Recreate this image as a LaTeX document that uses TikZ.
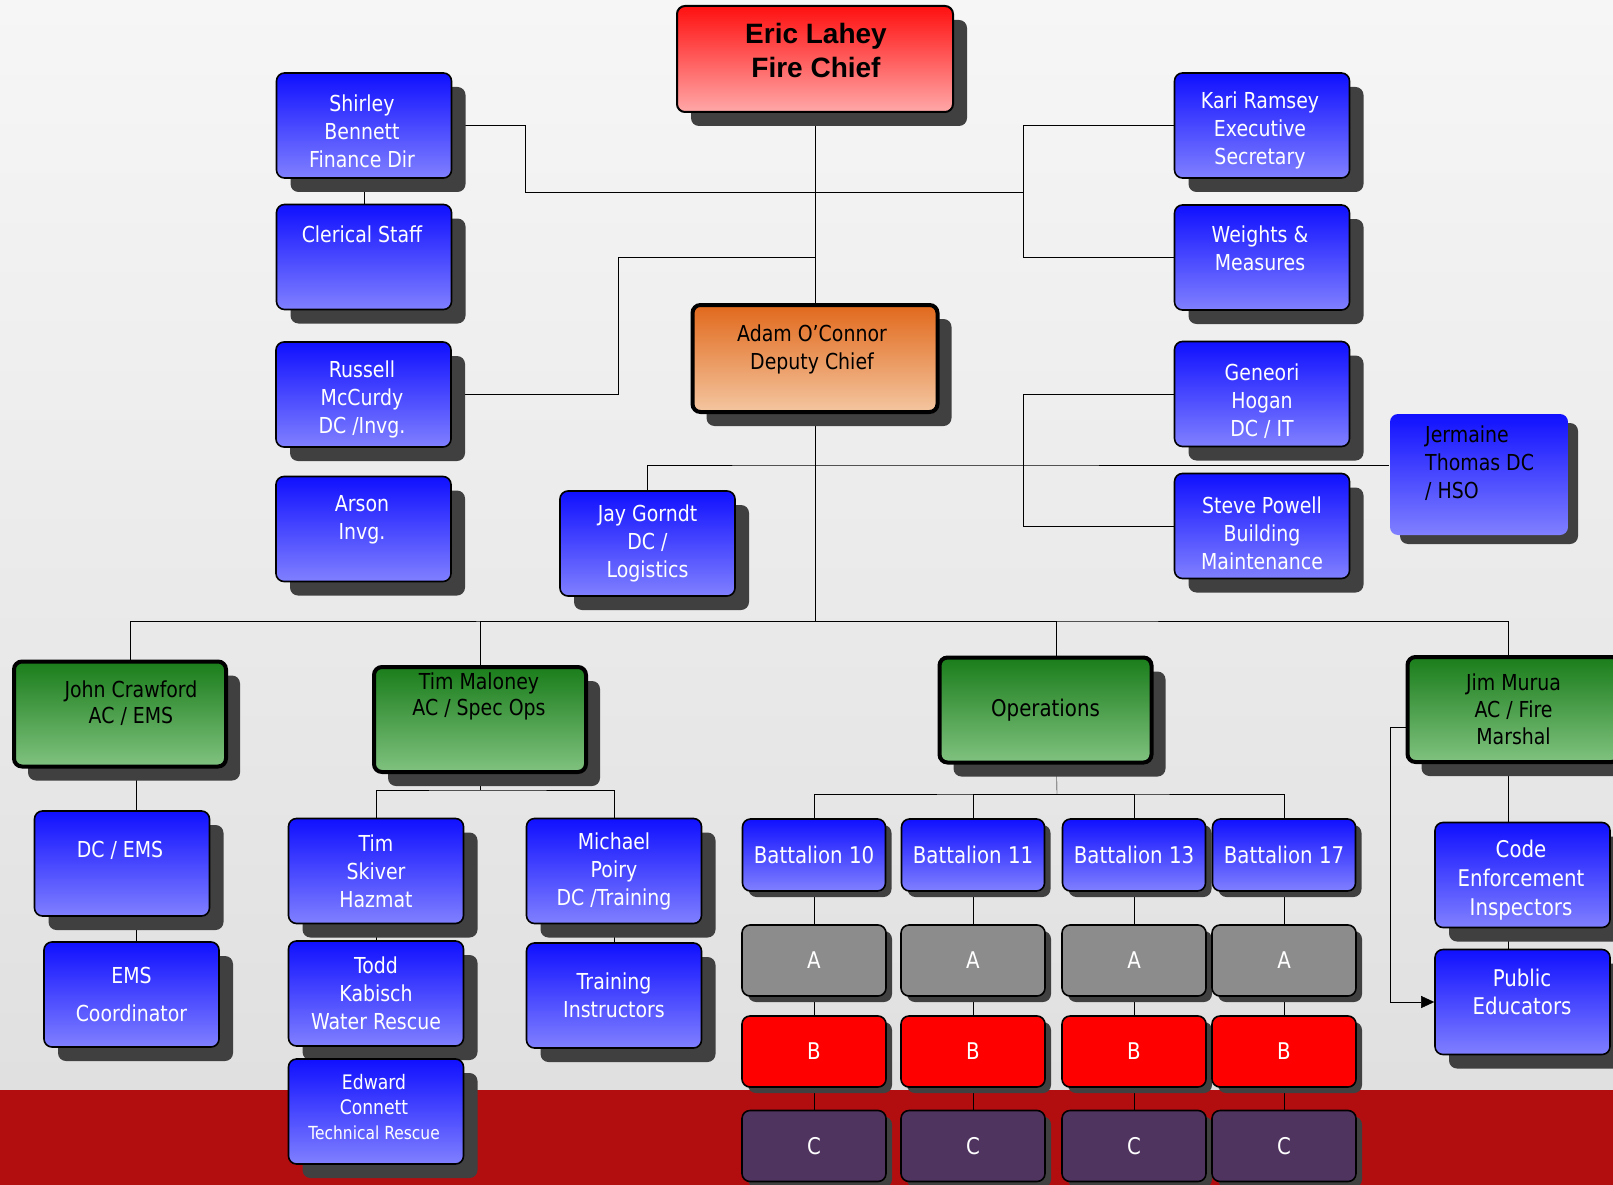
\documentclass[tikz,border=0pt]{standalone}
\usepackage{fontspec}
\setmainfont{DejaVu Sans}[FakeStretch=0.86]
\newfontfamily\chieffont{Liberation Sans}
\usepackage{tikz}
\usetikzlibrary{shadows,arrows.meta}

\definecolor{bgtop}{RGB}{246,246,246}
\definecolor{bgbot}{RGB}{222,222,222}
\definecolor{bandred}{RGB}{178,14,16}
\definecolor{shadowgray}{RGB}{64,64,64}
\definecolor{bluetop}{RGB}{16,16,255}
\definecolor{bluebot}{RGB}{128,128,255}
\definecolor{greentop}{RGB}{26,125,26}
\definecolor{greenbot}{RGB}{128,194,128}
\definecolor{chieftop}{RGB}{255,16,16}
\definecolor{chiefbot}{RGB}{255,168,168}
\definecolor{deputytop}{RGB}{225,105,28}
\definecolor{deputybot}{RGB}{244,198,160}
\definecolor{shiftgray}{RGB}{140,140,140}
\definecolor{shiftred}{RGB}{255,0,0}
\definecolor{shiftpurple}{RGB}{80,52,96}

\pgfdeclarelayer{back}
\pgfdeclarelayer{wires}
\pgfsetlayers{back,wires,main}

\tikzstyle{bigshadow} = [drop shadow={shadow xshift=14pt, shadow yshift=-14pt, fill=shadowgray, opacity=1}]
\tikzstyle{smallshadow} = [drop shadow={shadow xshift=6pt, shadow yshift=-6pt, fill=shadowgray, opacity=1}]
\tikzstyle{box} = [rectangle, rounded corners=8pt, inner sep=0pt, draw=black, line width=1.6pt, align=center, text=white]
\tikzstyle{bluebox} = [box, bigshadow, minimum width=175pt, minimum height=105pt, top color=bluetop, bottom color=bluebot]
\tikzstyle{greenbox} = [box, bigshadow, line width=4pt, minimum width=212pt, minimum height=105pt, top color=greentop, bottom color=greenbot, text=black]
\tikzstyle{chiefbox} = [box, bigshadow, line width=2pt, minimum width=276pt, minimum height=106pt, top color=chieftop, bottom color=chiefbot]
\tikzstyle{deputybox} = [box, bigshadow, line width=4pt, minimum width=245pt, minimum height=107pt, top color=deputytop, bottom color=deputybot]
\tikzstyle{hsobox} = [box, draw=none, minimum width=178pt, minimum height=121pt, top color=bluetop, bottom color=bluebot, drop shadow={shadow xshift=10pt, shadow yshift=-9pt, fill=shadowgray, opacity=1}]
\tikzstyle{battalion} = [box, smallshadow, minimum width=143pt, minimum height=72pt, top color=bluetop, bottom color=bluebot, font=\fontsize{23}{28}\selectfont]
\tikzstyle{platoon} = [box, smallshadow, minimum width=144pt, minimum height=71pt, font=\fontsize{23}{28}\selectfont]
\tikzstyle{platoonA} = [platoon, fill=shiftgray]
\tikzstyle{platoonB} = [platoon, fill=shiftred]
\tikzstyle{platoonC} = [platoon, fill=shiftpurple]
\tikzstyle{lbl} = [inner sep=0pt, align=center, text=white]
\tikzstyle{dark} = [lbl, text=black]

\begin{document}
\begin{tikzpicture}[x=1pt, y=-1pt, line width=1.8pt, font=\fontsize{22}{28}\selectfont]
\useasboundingbox (0,0) rectangle (1613,1185);
\begin{pgfonlayer}{back}
\shade[top color=bgtop, bottom color=bgbot] (0,0) rectangle (1613,1185);
\fill[bandred] (0,1090) rectangle (1613,1185);
\end{pgfonlayer}

% chief and deputy
\node[chiefbox] (chief) at (815,59) {};
\node[dark, font=\chieffont\bfseries\fontsize{28}{34}\selectfont] (chiefT) at (816,50) {Eric Lahey\\Fire Chief};
\node[deputybox] (adam) at (815,358.5) {};
\node[dark] (adamT) at (812,349) {Adam O'Connor\\Deputy Chief};

% staff, left
\node[bluebox] (shirley) at (364,125.5) {};
\node[lbl] (shirleyT) at (362,131) {Shirley\\Bennett\\Finance Dir};
\node[bluebox] (clerical) at (364,257) {};
\node[lbl] (clericalT) at (362,234) {Clerical Staff};
\node[bluebox] (russell) at (363.5,394.5) {};
\node[lbl] (russellT) at (362,399) {Russell\\McCurdy\\DC /Invg.};
\node[bluebox] (arson) at (363.5,529) {};
\node[lbl] (arsonT) at (362,520) {Arson\\Invg.};
\node[bluebox] (jay) at (647.5,543.5) {Jay Gorndt\\DC /\\Logistics};

% staff, right
\node[bluebox] (kari) at (1262,125.5) {};
\node[lbl] (kariT) at (1260,130) {Kari Ramsey\\Executive\\Secretary};
\node[bluebox] (weights) at (1262,257.5) {};
\node[lbl] (weightsT) at (1260,248) {Weights \&\\Measures};
\node[bluebox] (geneori) at (1262,394) {};
\node[lbl] (geneoriT) at (1262,401) {Geneori\\Hogan\\DC / IT};
\node[bluebox] (steve) at (1262,526) {};
\node[lbl] (steveT) at (1262,533) {Steve Powell\\Building\\Maintenance};
\node[hsobox] (jermaine) at (1479,474.5) {};
\node[dark, anchor=west, align=left] (jermaineT) at (1425,463) {Jermaine\\Thomas DC\\/ HSO};

% assistant chiefs
\node[greenbox] (john) at (120,714) {};
\node[dark, font=\fontsize{22}{26}\selectfont] (johnT) at (131,703) {John Crawford\\AC / EMS};
\node[greenbox] (timmal) at (480,719.5) {};
\node[dark, font=\fontsize{22}{26}\selectfont] (timmalT) at (479,696) {Tim Maloney\\AC / Spec Ops};
\node[greenbox, font=\fontsize{23}{28}\selectfont] (ops) at (1045.5,710) {Operations};
\node[greenbox, font=\fontsize{22}{27}\selectfont] (jim) at (1513.5,709.5) {Jim Murua\\AC / Fire\\Marshal};

% EMS
\node[bluebox] (dcems) at (122,863.5) {};
\node[lbl] (dcemsT) at (120,850) {DC / EMS};
\node[bluebox] (emscoord) at (131.5,994.5) {EMS\\[10pt]Coordinator};

% special ops
\node[bluebox] (skiver) at (376,871) {Tim\\Skiver\\Hazmat};
\node[bluebox] (todd) at (376,993.5) {Todd\\Kabisch\\Water Rescue};
\node[bluebox] (edward) at (376,1111.5) {};
\node[lbl, font=\fontsize{20}{25}\selectfont] (edwardT) at (374,1107) {Edward\\Connett\\{\fontsize{18}{25}\selectfont Technical Rescue}};
\node[bluebox] (poiry) at (614,871) {Michael\\Poiry\\DC /Training};
\node[bluebox] (trainer) at (614,995.5) {Training\\Instructors};

% battalions
\foreach \n/\x in {10/814,11/973,13/1134,17/1284} {
  \node[battalion] (bat\n) at (\x,855) {Battalion \n};
  \node[platoonA] (a\n) at (\x,960.5) {A};
  \node[platoonB] (b\n) at (\x,1051.5) {B};
  \node[platoonC] (c\n) at (\x,1146) {C};
}

% fire marshal
\node[bluebox] (code) at (1522.5,875) {};
\node[lbl, font=\fontsize{23}{29}\selectfont] (codeT) at (1521,880) {Code\\Enforcement\\Inspectors};
\node[bluebox] (public) at (1522.5,1002) {};
\node[lbl, font=\fontsize{23}{28}\selectfont] (publicT) at (1522,992) {Public\\Educators};

\coordinate (trunkA) at (815,192);
\coordinate (trunkB) at (815,257);
\coordinate (trunkC) at (815,465);
\coordinate (rjoinA) at (1023,192);
\coordinate (rjoinC) at (1023,465);
\coordinate (bus) at (815,621);
\coordinate (spec) at (480,790);
\coordinate (opsbus) at (1057,794);

\begin{pgfonlayer}{wires}
\draw (chief) -- (adam) -- (bus);
\draw (shirley) -- (clerical);
\draw (shirley.east) -| (525,192) -- (trunkA);
\draw (trunkA) -- (rjoinA) |- (kari.west);
\draw (rjoinA) |- (weights.west);
\draw (russell.east) -| (618,257) -- (trunkB);
\draw (jay.north) |- (trunkC) -- (trunkC -| jermaine.west);
\draw (geneori.west) -| (rjoinC) |- (steve.west);
\draw ([xshift=10pt]john.north) |- (bus) -| ([xshift=-5pt]jim.north);
\draw (timmal.north) |- (bus);
\draw ([xshift=11pt]ops.north) |- (bus);
\draw ([xshift=16pt]john.south) -- ([xshift=14pt]dcems.north);
\draw ([xshift=14pt]dcems.south) -- ([xshift=4.5pt]emscoord.north);
\draw (timmal) -- (spec);
\draw (skiver.north) |- (spec) -| (poiry.north);
\draw (skiver) -- (todd) -- (edward);
\draw (poiry) -- (trainer);
\draw ([xshift=11pt]ops.south) -- (opsbus);
\draw (bat10.north) |- (opsbus) -| (bat17.north);
\draw (bat11.north) |- (opsbus);
\draw (bat13.north) |- (opsbus);
\foreach \n in {10,11,13,17}
  \draw (bat\n) -- (a\n) -- (b\n) -- (c\n);
\draw ([xshift=-5.5pt]jim.south) -- ([xshift=-14.5pt]code.north);
\draw ([xshift=-14.5pt]code.south) -- ([xshift=-14.5pt]public.north);
\draw[-{Triangle[length=13pt, width=12pt]}] ([yshift=-18pt]jim.west) -| (1390,1002) -- (public.west);
\end{pgfonlayer}
\end{tikzpicture}
\end{document}
